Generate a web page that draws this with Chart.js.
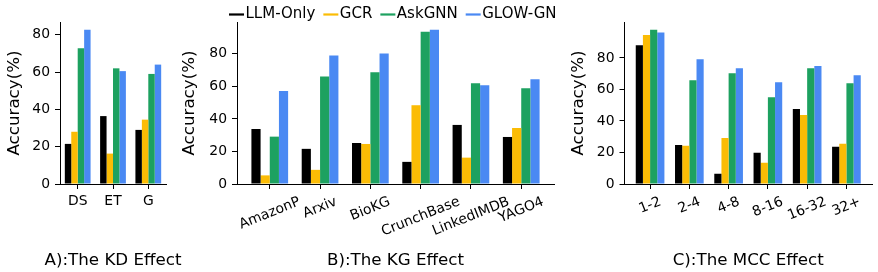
<!DOCTYPE html>
<html><head><meta charset="utf-8">
<script src="https://cdn.jsdelivr.net/npm/chart.js@4.4.1/dist/chart.umd.min.js"></script>
<style>
html,body{margin:0;padding:0;background:#fff;}
#wrap{position:relative;width:878px;height:272px;overflow:hidden;}
canvas{position:absolute;left:0;top:0;}
</style></head><body>
<div id="wrap">
<canvas id="cA" width="878" height="272"></canvas>
<canvas id="cB" width="878" height="272"></canvas>
<canvas id="cC" width="878" height="272"></canvas>
</div>
<script>
const seriesNames = ['LLM-Only', 'GCR', 'AskGNN', 'GLOW-GN'];
const seriesColors = ['#000000', '#FBBC05', '#1DA160', '#4A89F3'];

const kdCategories = ['DS', 'ET', 'G'];
const kdLLMOnly = [21.5, 36.4, 29.0];
const kdGCR = [28.0, 16.3, 34.5];
const kdAskGNN = [72.7, 62.0, 59.0];
const kdGLOWGN = [82.7, 60.5, 64.0];

const kgCategories = ['AmazonP', 'Arxiv', 'BioKG', 'CrunchBase', 'LinkedIMDB', 'YAGO4'];
const kgLLMOnly = [33.8, 21.6, 25.2, 13.6, 36.3, 28.9];
const kgGCR = [5.3, 8.7, 24.6, 48.4, 16.2, 34.4];
const kgAskGNN = [29.1, 66.1, 68.6, 93.6, 61.9, 58.8];
const kgGLOWGN = [57.2, 79.0, 80.2, 94.8, 60.7, 64.3];

const mccCategories = ['1-2', '2-4', '4-8', '8-16', '16-32', '32+'];
const mccLLMOnly = [88.0, 24.8, 6.5, 19.8, 47.6, 23.6];
const mccGCR = [94.5, 24.2, 29.2, 13.5, 43.8, 25.5];
const mccAskGNN = [97.9, 65.9, 70.3, 55.1, 73.5, 64.0];
const mccGLOWGN = [96.2, 79.2, 73.5, 64.6, 74.8, 69.0];

const yTickValues = [0, 20, 40, 60, 80];
const yAxisTitle = 'Accuracy(%)';
const panelTitles = ['A):The KD Effect', 'B):The KG Effect', 'C):The MCC Effect'];

const FONT = 'DejaVu Sans';
const TICK_SIZE = 13.9;
const TITLE_SIZE = 16.7;
const LEGEND_SIZE = 15;

function makePanel(id, cats, series, title, L, withLegend) {
  const catPct = 0.73;
  const half = catPct / 2;
  const span = cats.length - 1 + catPct;
  const xMin = -half - 0.05 * span;
  const xMax = cats.length - 1 + half + 0.05 * span;
  const yMax = 1.05 * Math.max(...series.flat());
  const datasets = series.map((vals, k) => ({
    label: seriesNames[k],
    data: vals.map((v, i) => ({x: i, y: v})),
    backgroundColor: seriesColors[k],
    borderWidth: 0,
    categoryPercentage: catPct,
    barPercentage: 1.0
  }));
  const labelPlugin = {
    id: 'labels' + id,
    afterDraw(chart) {
      const ctx = chart.ctx;
      const xs = chart.scales.x;
      const ca = chart.chartArea;
      ctx.save();
      ctx.fillStyle = '#000';
      ctx.font = TICK_SIZE + 'px "' + FONT + '"';
      const th = L.rot * Math.PI / 180;
      const h = TICK_SIZE * 1.17;
      const top = ca.bottom + 9.7;
      cats.forEach((c, i) => {
        const x = xs.getPixelForValue(i);
        const w = ctx.measureText(c).width;
        const H = w * Math.sin(th) + h * Math.cos(th);
        ctx.save();
        ctx.translate(x, top + H / 2);
        ctx.rotate(-th);
        ctx.textAlign = 'center';
        ctx.textBaseline = 'middle';
        ctx.fillText(c, 0, 0);
        ctx.restore();
      });
      ctx.font = TITLE_SIZE + 'px "' + FONT + '"';
      ctx.textAlign = 'center';
      ctx.textBaseline = 'alphabetic';
      ctx.fillText(title, (ca.left + ca.right) / 2, 265);
      if (withLegend) {
        let x = 229;
        const y = 14.5;
        ctx.font = LEGEND_SIZE + 'px "' + FONT + '"';
        ctx.textAlign = 'left';
        ctx.textBaseline = 'middle';
        seriesNames.forEach((n, k) => {
          ctx.strokeStyle = seriesColors[k];
          ctx.lineWidth = 2.2;
          ctx.beginPath();
          ctx.moveTo(x, y);
          ctx.lineTo(x + 15, y);
          ctx.stroke();
          x += 16.5;
          ctx.fillStyle = '#000';
          ctx.fillText(n, x, y);
          x += ctx.measureText(n).width + 8;
        });
      }
      ctx.restore();
    }
  };
  return new Chart(document.getElementById(id), {
    type: 'bar',
    data: {datasets},
    options: {
      responsive: false,
      animation: false,
      devicePixelRatio: 1,
      layout: {padding: {left: L.padLeft, top: L.top, right: 878 - L.right, bottom: 0}},
      plugins: {legend: {display: false}, tooltip: {enabled: false}},
      scales: {
        x: {
          type: 'linear', min: xMin, max: xMax, offset: false,
          afterBuildTicks: s => { s.ticks = cats.map((c, i) => ({value: i})); },
          afterFit: s => { s.height = 272 - L.bottom; },
          grid: {display: true, offset: false, drawOnChartArea: false, drawTicks: true, tickLength: 5, color: '#000', lineWidth: 1},
          border: {display: true, color: '#000', width: 1},
          ticks: {display: false}
        },
        y: {
          type: 'linear', min: 0, max: yMax,
          afterBuildTicks: s => { s.ticks = yTickValues.filter(v => v <= yMax).map(v => ({value: v})); },
          afterFit: s => { s.width = L.left - L.padLeft; },
          grid: {display: true, drawOnChartArea: false, drawTicks: true, tickLength: 5, color: '#000', lineWidth: 1},
          border: {display: true, color: '#000', width: 1},
          ticks: {color: '#000', font: {family: FONT, size: TICK_SIZE}, padding: 5},
          title: {display: true, text: yAxisTitle, color: '#000', font: {family: FONT, size: TITLE_SIZE, lineHeight: 1.2}, padding: 0}
        }
      }
    },
    plugins: [labelPlugin]
  });
}

makePanel('cA', kdCategories, [kdLLMOnly, kdGCR, kdAskGNN, kdGLOWGN], panelTitles[0],
  {padLeft: 5, left: 60, right: 166, top: 22, bottom: 184, rot: 0}, false);
makePanel('cB', kgCategories, [kgLLMOnly, kgGCR, kgAskGNN, kgGLOWGN], panelTitles[1],
  {padLeft: 180, left: 237, right: 554, top: 22, bottom: 184, rot: 22}, true);
makePanel('cC', mccCategories, [mccLLMOnly, mccGCR, mccAskGNN, mccGLOWGN], panelTitles[2],
  {padLeft: 568.3, left: 624.5, right: 872, top: 22, bottom: 184, rot: 22}, false);
</script>
</body></html>
